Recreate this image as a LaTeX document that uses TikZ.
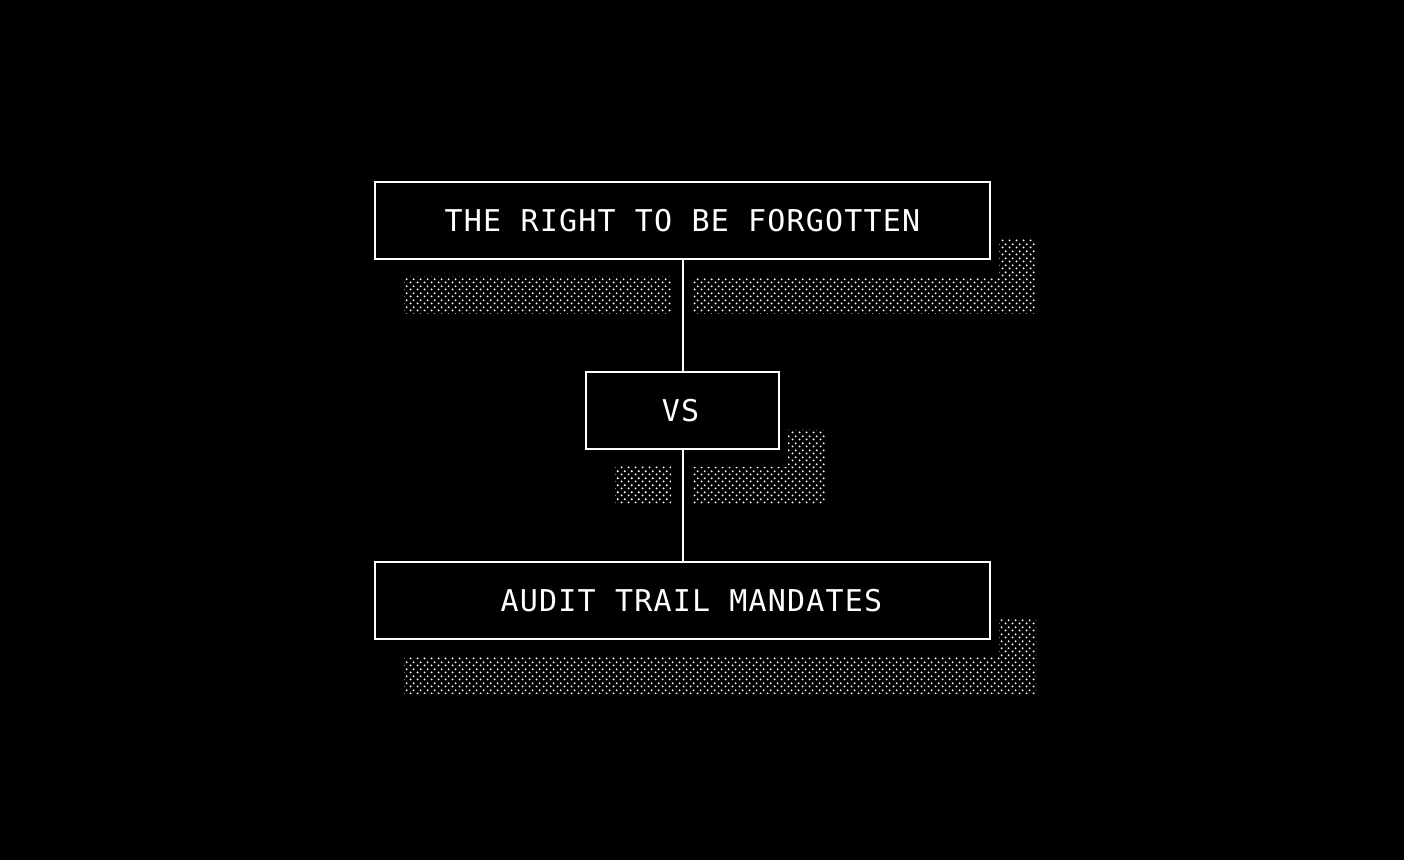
\documentclass[tikz,border=0pt]{standalone}
\usepackage{fontspec}
\usetikzlibrary{patterns.meta}
\newfontfamily\boxfont{DejaVu Sans Mono}[LetterSpace=4]

\tikzdeclarepattern{
  name=shadowdots,
  type=uncolored,
  bounding box={(0pt,0pt) and (3.3pt,3.3pt)},
  tile size={(3.3pt,3.3pt)},
  code={
    \fill (0.825pt,0.825pt) circle (0.55pt);
    \fill (2.475pt,2.475pt) circle (0.55pt);
  }
}

\begin{document}
\begin{tikzpicture}[x=0.5pt,y=-0.5pt,
  every node/.style={draw=white,line width=1pt,fill=black,text=white,font=\boxfont\fontsize{15pt}{18pt}\selectfont,minimum height=38.5pt,inner sep=0pt},
  shadow/.style={pattern=shadowdots,pattern color=white},
  link/.style={draw=white,line width=1pt}]

  \fill[black] (0,0) rectangle (1404,860);
  \useasboundingbox (0,0) rectangle (1404,860);

  %shadows
  \fill[shadow] (404,277) rectangle (671,314);
  \fill[shadow] (692,277) -- (999,277) -- (999,239) -- (1036,239) -- (1036,314) -- (692,314) -- cycle;
  \fill[shadow] (615,467) rectangle (671,504);
  \fill[shadow] (692,467) -- (788,467) -- (788,430) -- (825,430) -- (825,504) -- (692,504) -- cycle;
  \fill[shadow] (404,657) -- (999,657) -- (999,619) -- (1036,619) -- (1036,694) -- (404,694) -- cycle;

  %boxes
  \node[minimum width=307.5pt] (forget) at (682.5,220.5) {THE RIGHT TO BE FORGOTTEN};
  \node[minimum width=96.5pt] (vs) at (682.5,410.5) {\hspace*{-1pt}VS\hspace*{1pt}};
  \node[minimum width=307.5pt] (audit) at (682.5,600.5) {\hspace*{4.5pt}AUDIT TRAIL MANDATES\hspace*{-4.5pt}};

  %edges
  \draw[link] (forget) -- (vs);
  \draw[link] (vs) -- (audit);
\end{tikzpicture}
\end{document}
